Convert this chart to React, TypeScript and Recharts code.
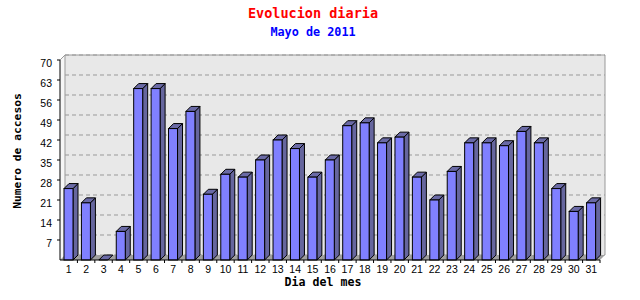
import React from "react";
import {
  BarChart,
  Bar,
  XAxis,
  YAxis,
  CartesianGrid,
  ReferenceArea,
} from "recharts";

const days = [
  "1", "2", "3", "4", "5", "6", "7", "8", "9", "10", "11", "12", "13", "14", "15", "16",
  "17", "18", "19", "20", "21", "22", "23", "24", "25", "26", "27", "28", "29", "30", "31",
];
const visits = [
  25, 20, 0, 10, 60, 60, 46, 52, 23, 30, 29, 35, 42, 39, 29, 35,
  47, 48, 41, 43, 29, 21, 31, 41, 41, 40, 45, 41, 25, 17, 20,
];
const yTicks = [7, 14, 21, 28, 35, 42, 49, 56, 63, 70];

const title = "Evolucion diaria";
const subtitle = "Mayo de 2011";
const xTitle = "Dia del mes";
const yTitle = "Numero de accesos";

// 3d depth of the fake perspective
const D = 5;
const mono = "'DejaVu Sans Mono', monospace";
const sans = "'Liberation Sans', Arial, sans-serif";

const data = days.map((d, i) => ({ day: d, visits: visits[i] }));

function Bar3D(props: any) {
  const { x, y, width, height } = props;
  const top = `${x},${y} ${x + D},${y - D} ${x + width + D},${y - D} ${x + width},${y}`;
  const side = `${x + width},${y} ${x + width + D},${y - D} ${x + width + D},${y + height - D} ${x + width},${y + height}`;
  return (
    <g>
      {height > 0 && (
        <polygon points={side} fill="#66669e" stroke="#000" strokeWidth={1} />
      )}
      <polygon points={top} fill="#6a6aa6" stroke="#000" strokeWidth={1} />
      {height > 0 && (
        <rect x={x} y={y} width={width} height={height} fill="#8080ff" stroke="#000" strokeWidth={1} />
      )}
    </g>
  );
}

// floor, left wall and back wall border, shifted from the plot rect
function Walls(props: any) {
  const { x, y, width, height } = props;
  const b = y + height;
  return (
    <g>
      <polygon
        points={`${x},${y} ${x + D},${y - D} ${x + D},${b - D} ${x},${b}`}
        fill="#f6f6f6"
        stroke="none"
      />
      <polygon
        points={`${x},${b} ${x + D},${b - D} ${x + width + D},${b - D} ${x + width},${b}`}
        fill="#a0a0a0"
        stroke="none"
      />
      <polyline
        points={`${x},${y} ${x + D},${y - D} ${x + width + D},${y - D} ${x + width + D},${b - D}`}
        fill="none"
        stroke="#999"
      />
      <line x1={x + D} y1={y - D} x2={x + D} y2={b - D} stroke="#999" />
    </g>
  );
}

function YTick(props: any) {
  const { x, y, payload } = props;
  return (
    <text x={x} y={y + 6.5} textAnchor="end" fill="#000" fontSize={10.5} fontFamily={sans}>
      {payload.value}
    </text>
  );
}

function XTick(props: any) {
  const { x, y, payload } = props;
  const edge = x + (payload.offset || 0);
  return (
    <g>
      <line x1={edge} y1={y - 6} x2={edge} y2={y - 3} stroke="#000" />
      <text x={x} y={y + 7} textAnchor="middle" fill="#000" fontSize={10.5} fontFamily={sans}>
        {payload.value}
      </text>
    </g>
  );
}

export default function App() {
  return (
    <div style={{ position: "absolute", left: 0, top: 0, width: 640, height: 300, background: "#fff" }}>
      <div
        style={{
          position: "absolute", left: 0, width: 626, top: 5, textAlign: "center",
          color: "#ff0000", fontFamily: mono, fontWeight: "bold", fontSize: 13.5,
        }}
      >
        {title}
      </div>
      <div
        style={{
          position: "absolute", left: 0, width: 626, top: 25, textAlign: "center",
          color: "#0000ff", fontFamily: mono, fontWeight: "bold", fontSize: 11.8,
        }}
      >
        {subtitle}
      </div>
      <div
        style={{
          position: "absolute", left: 17, top: 151, transform: "translate(-50%, -50%) rotate(-90deg)",
          whiteSpace: "nowrap", fontFamily: mono, fontWeight: "bold", fontSize: 11.3, color: "#000",
        }}
      >
        {yTitle}
      </div>
      <div
        style={{
          position: "absolute", left: 323, top: 282, transform: "translate(-50%, -50%)",
          whiteSpace: "nowrap", fontFamily: mono, fontWeight: "bold", fontSize: 11.6, color: "#000",
        }}
      >
        {xTitle}
      </div>
      <div style={{ position: "absolute", left: 0, top: 0 }}>
        <BarChart
          width={640}
          height={300}
          data={data}
          margin={{ top: 60, right: 40, left: 20, bottom: 10 }}
          barSize={9}
        >
          <CartesianGrid
            x={60 + D}
            y={60 - D}
            width={540}
            height={200}
            fill="#e8e8e8"
            fillOpacity={1}
            vertical={false}
            horizontal={(p: any) => (
              <line
                key={p.key}
                x1={p.x1}
                x2={p.x2}
                y1={p.y1 - D}
                y2={p.y2 - D}
                stroke="#999"
                strokeDasharray="4 3"
              />
            )}
          />
          <ReferenceArea y1={0} y2={70} ifOverflow="visible" shape={<Walls />} />
          <XAxis
            dataKey="day"
            height={30}
            axisLine={{ stroke: "#000" }}
            tickLine={{ stroke: "none" }}
            tickSize={3}
            tickMargin={3}
            interval={0}
            tick={<XTick />}
          />
          <YAxis
            width={40}
            domain={[0, 70]}
            ticks={yTicks}
            interval={0}
            axisLine={{ stroke: "#000" }}
            tickLine={{ stroke: "#000" }}
            tickSize={3}
            tickMargin={5}
            tick={<YTick />}
          />
          <Bar dataKey="visits" isAnimationActive={false} shape={<Bar3D />} />
        </BarChart>
      </div>
    </div>
  );
}
